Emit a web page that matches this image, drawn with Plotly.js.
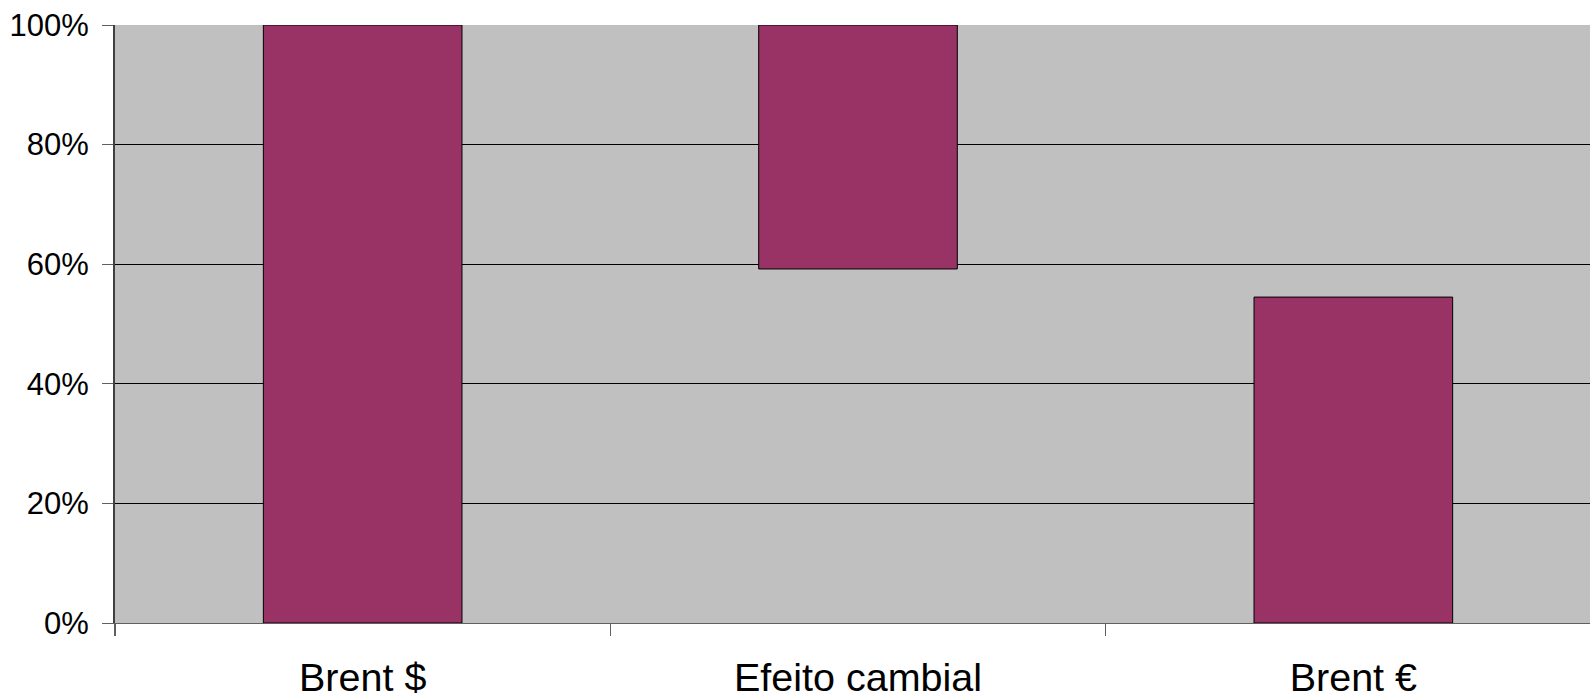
<!DOCTYPE html>
<html>
<head>
<meta charset="utf-8">
<script src="https://cdn.plot.ly/plotly-3.0.1.min.js"></script>
<style>
  html, body { margin: 0; padding: 0; background: #ffffff; overflow: hidden; }
  #chart { width: 1601px; height: 699px; }
</style>
</head>
<body>
<div id="chart"></div>
<script>
// Floating bars: each bar spans from its bottom value to its top value (in %)
const categories = ['Brent $', 'Efeito cambial', 'Brent €'];
const barTop = [100, 100, 54.5];
const barBottom = [0, 59.2, 0];

const yTickValues = [0, 20, 40, 60, 80, 100];

const heights = barTop.map((t, i) => t - barBottom[i]);

const trace = {
  type: 'bar',
  x: categories,
  y: heights,
  base: barBottom,
  marker: { color: '#993366', line: { color: '#000000', width: 1 } },
  hoverinfo: 'skip'
};

// The plot area runs slightly past the right edge of the page
const layout = {
  width: 1601,
  height: 699,
  margin: { l: 115, r: 0, t: 25, b: 76 },
  paper_bgcolor: '#ffffff',
  plot_bgcolor: '#c0c0c0',
  showlegend: false,
  bargap: 0.599,
  font: { family: 'Liberation Sans, Arial, sans-serif', color: '#000000' },
  xaxis: {
    type: 'category',
    tickson: 'boundaries',
    ticks: 'outside',
    ticklen: 12,
    tickwidth: 1.5,
    tickcolor: '#606060',
    showline: true,
    linecolor: '#606060',
    linewidth: 1,
    showgrid: false,
    tickfont: { size: 39.5, color: '#000000' },
    ticklabelstandoff: 20,
    fixedrange: true
  },
  yaxis: {
    range: [0, 100],
    tickvals: yTickValues,
    ticktext: yTickValues.map(v => v + '%'),
    ticks: 'outside',
    ticklen: 11,
    tickwidth: 1,
    tickcolor: '#606060',
    showline: true,
    linecolor: '#404040',
    linewidth: 2,
    showgrid: true,
    gridcolor: '#000000',
    gridwidth: 1,
    zeroline: false,
    tickfont: { size: 31, color: '#000000' },
    ticklabelstandoff: 7,
    fixedrange: true
  }
};

Plotly.newPlot('chart', [trace], layout, { displayModeBar: false, staticPlot: true });
</script>
</body>
</html>
